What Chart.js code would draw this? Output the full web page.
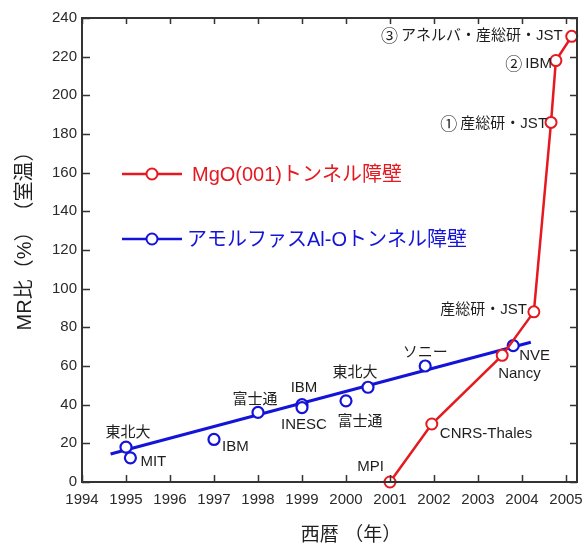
<!DOCTYPE html>
<html lang="ja">
<head>
<meta charset="utf-8">
<title>MR比の推移</title>
<script src="https://cdn.jsdelivr.net/npm/chart.js@4/dist/chart.umd.min.js"></script>
<style>
  html, body { margin: 0; padding: 0; background: #fff; }
  #wrap { width: 585px; height: 546px; position: relative; }
</style>
</head>
<body>
<div id="wrap"><canvas id="mrChart"></canvas></div>
<script>
// amorphous Al-O barrier results
const alYears = [1995, 1995.1, 1997, 1998, 1999, 1999, 2000, 2000.5, 2001.8, 2003.8];
const alMR = [18, 12.5, 22, 36, 40, 38.5, 42, 49, 60, 70.5];
const alGroups = ["東北大", "MIT", "IBM", "富士通", "IBM", "INESC", "富士通", "東北大", "ソニー", "NVE"];

// trend line through the Al-O results
const alTrendYears = [1994.65, 2004.2];
const alTrendMR = [14.5, 72.3];

// MgO(001) barrier results
const mgoYears = [2001, 2001.95, 2003.55, 2004.27, 2004.66, 2004.77, 2005.13];
const mgoMR = [0, 30, 65.5, 88, 186, 218, 230.5];
const mgoGroups = ["MPI", "CNRS-Thales", "Nancy", "産総研・JST", "①産総研・JST", "②IBM", "③アネルバ・産総研・JST"];

const xTicks = [1994, 1995, 1996, 1997, 1998, 1999, 2000, 2001, 2002, 2003, 2004, 2005];
const yTicks = [0, 20, 40, 60, 80, 100, 120, 140, 160, 180, 200, 220, 240];

const legendNames = ["MgO(001)トンネル障壁", "アモルファスAl-Oトンネル障壁"];
const yTitleParts = ["MR比", "（%）", "（室温）"];
const xTitle = "西暦 （年）";

const RED = "#e5191f";
const BLUE = "#1414d8";
const INK = "#1e1e1e";
const LATIN = '"Liberation Sans", Arial, "Noto Sans CJK JP", sans-serif';
const CJK = '"Noto Sans CJK JP", sans-serif';

// label placement: [dx, dy, align] from each point
const alLabelPos = [
  [2, -14, "center"], [10, 4, "left"], [8, 7, "left"], [-3, -13, "center"],
  [2, -17, "center"], [2, 17, "center"], [14, 21, "center"], [-13, -14, "center"],
  [0, -13, "center"], [6, 10, "left"],
];
const mgoLabelPos = [
  [-6, -15, "right"], [8, 10, "left"], [-4, 18, "left"], [-7, -2, "right"],
  [-4, 1, "right"], [-4, 3, "right"], [-9, -1, "right"],
];

const toPoints = (xs, ys) => xs.map((x, i) => ({ x, y: ys[i] }));

const frame = {
  id: "frame",
  afterDatasetsDraw(chart) {
    const { ctx, chartArea: a, scales } = chart;
    ctx.save();
    ctx.strokeStyle = "#333";
    ctx.lineWidth = 2;
    ctx.strokeRect(a.left, a.top, a.right - a.left, a.bottom - a.top);
    ctx.lineWidth = 1.5;
    ctx.beginPath();
    xTicks.forEach((v) => {
      const px = Math.round(scales.x.getPixelForValue(v)) + 0.5;
      ctx.moveTo(px, a.bottom); ctx.lineTo(px, a.bottom - 7);
      ctx.moveTo(px, a.top); ctx.lineTo(px, a.top + 6);
    });
    yTicks.forEach((v) => {
      const py = Math.round(scales.y.getPixelForValue(v)) + 0.5;
      ctx.moveTo(a.left, py); ctx.lineTo(a.left + 8, py);
      ctx.moveTo(a.right, py); ctx.lineTo(a.right - 7, py);
    });
    ctx.stroke();
    ctx.restore();
  },
};

// circled numbers get a larger CJK glyph, the rest uses the label font
function drawLabel(ctx, text, x, y, align) {
  const lead = /^[\u2460-\u2473]/.test(text) ? text[0] : "";
  const rest = lead ? text.slice(1) : text;
  const restFont = "15px " + LATIN;
  const leadFont = "17px " + CJK;
  ctx.font = restFont;
  const restW = ctx.measureText(rest).width;
  ctx.font = leadFont;
  const leadW = lead ? ctx.measureText(lead).width + 3 : 0;
  const total = leadW + restW;
  let x0 = x;
  if (align === "right") x0 = x - total;
  else if (align === "center") x0 = x - total / 2;
  ctx.textAlign = "left";
  if (lead) {
    ctx.font = leadFont;
    ctx.fillText(lead, x0, y);
  }
  ctx.font = restFont;
  ctx.fillText(rest, x0 + leadW, y);
}

const pointLabels = {
  id: "pointLabels",
  afterDatasetsDraw(chart) {
    const { ctx, scales } = chart;
    ctx.save();
    ctx.fillStyle = INK;
    ctx.textBaseline = "middle";
    const put = (xs, ys, names, pos) => {
      names.forEach((name, i) => {
        const [dx, dy, align] = pos[i];
        drawLabel(ctx, name, scales.x.getPixelForValue(xs[i]) + dx, scales.y.getPixelForValue(ys[i]) + dy, align);
      });
    };
    put(alYears, alMR, alGroups, alLabelPos);
    put(mgoYears, mgoMR, mgoGroups, mgoLabelPos);
    ctx.restore();
  },
};

const legendInside = {
  id: "legendInside",
  afterDatasetsDraw(chart) {
    const { ctx, chartArea: a } = chart;
    const rows = [
      { color: RED, y: 174, textX: 192, name: legendNames[0] },
      { color: BLUE, y: 239, textX: 187, name: legendNames[1] },
    ];
    ctx.save();
    rows.forEach((r) => {
      const x0 = a.left + 40;
      ctx.strokeStyle = r.color;
      ctx.lineWidth = 2.5;
      ctx.beginPath();
      ctx.moveTo(x0, r.y); ctx.lineTo(x0 + 60, r.y);
      ctx.stroke();
      ctx.beginPath();
      ctx.arc(x0 + 30, r.y, 5.5, 0, Math.PI * 2);
      ctx.fillStyle = "#fff";
      ctx.fill();
      ctx.lineWidth = 2;
      ctx.stroke();
      ctx.fillStyle = r.color;
      ctx.font = "20px " + LATIN;
      ctx.textAlign = "left";
      ctx.textBaseline = "middle";
      ctx.fillText(r.name, r.textX, r.y + 1);
    });
    ctx.restore();
  },
};

const axisTitles = {
  id: "axisTitles",
  afterDraw(chart) {
    const { ctx } = chart;
    ctx.save();
    ctx.fillStyle = INK;
    ctx.textBaseline = "middle";
    ctx.textAlign = "center";
    ctx.font = "19px " + LATIN;
    ctx.fillText(xTitle, 351, 536);
    // pieces drawn one by one so the brackets keep their full width
    ctx.translate(25, 236);
    ctx.rotate(-Math.PI / 2);
    ctx.font = "20px " + LATIN;
    ctx.textAlign = "left";
    const widths = yTitleParts.map((p) => ctx.measureText(p).width);
    let x = -widths.reduce((s, w) => s + w, 0) / 2;
    yTitleParts.forEach((p, i) => {
      ctx.fillText(p, x, 0);
      x += widths[i];
    });
    ctx.restore();
  },
};

new Chart(document.getElementById("mrChart"), {
  type: "scatter",
  data: {
    datasets: [
      {
        label: legendNames[0],
        data: toPoints(mgoYears, mgoMR),
        showLine: true,
        borderColor: RED,
        borderWidth: 2.5,
        pointRadius: 5.5,
        pointBorderWidth: 2,
        pointBackgroundColor: "#fff",
        pointBorderColor: RED,
        clip: false,
        order: 1,
      },
      {
        label: legendNames[1],
        data: toPoints(alYears, alMR),
        showLine: false,
        pointRadius: 5.5,
        pointBorderWidth: 2.2,
        pointBackgroundColor: "#fff",
        pointBorderColor: BLUE,
        clip: false,
        order: 2,
      },
      {
        label: "trend",
        data: toPoints(alTrendYears, alTrendMR),
        showLine: true,
        borderColor: BLUE,
        borderWidth: 3,
        pointRadius: 0,
        order: 3,
      },
    ],
  },
  options: {
    responsive: true,
    maintainAspectRatio: false,
    animation: false,
    layout: { padding: { top: 18, right: 8, left: 0, bottom: 0 } },
    plugins: { legend: { display: false }, tooltip: { enabled: false } },
    scales: {
      x: {
        type: "linear",
        min: 1994,
        max: 2005.25,
        afterFit: (s) => { s.height = 64; s.paddingLeft = 0; s.paddingRight = 0; },
        afterBuildTicks: (s) => { s.ticks = xTicks.map((v) => ({ value: v })); },
        grid: { display: false, drawTicks: false },
        border: { display: false },
        ticks: {
          padding: 9,
          color: "#2a2a2a",
          font: { family: LATIN, size: 15 },
          maxRotation: 0,
          autoSkip: false,
          callback: (v) => String(v),
        },
      },
      y: {
        type: "linear",
        min: 0,
        max: 240,
        afterFit: (s) => { s.width = 82; s.paddingTop = 0; s.paddingBottom = 0; },
        afterBuildTicks: (s) => { s.ticks = yTicks.map((v) => ({ value: v })); },
        grid: { display: false, drawTicks: false },
        border: { display: false },
        ticks: {
          padding: 5,
          color: "#2a2a2a",
          font: { family: LATIN, size: 15 },
          callback: (v) => String(v),
        },
      },
    },
  },
  plugins: [frame, pointLabels, legendInside, axisTitles],
});
</script>
</body>
</html>
